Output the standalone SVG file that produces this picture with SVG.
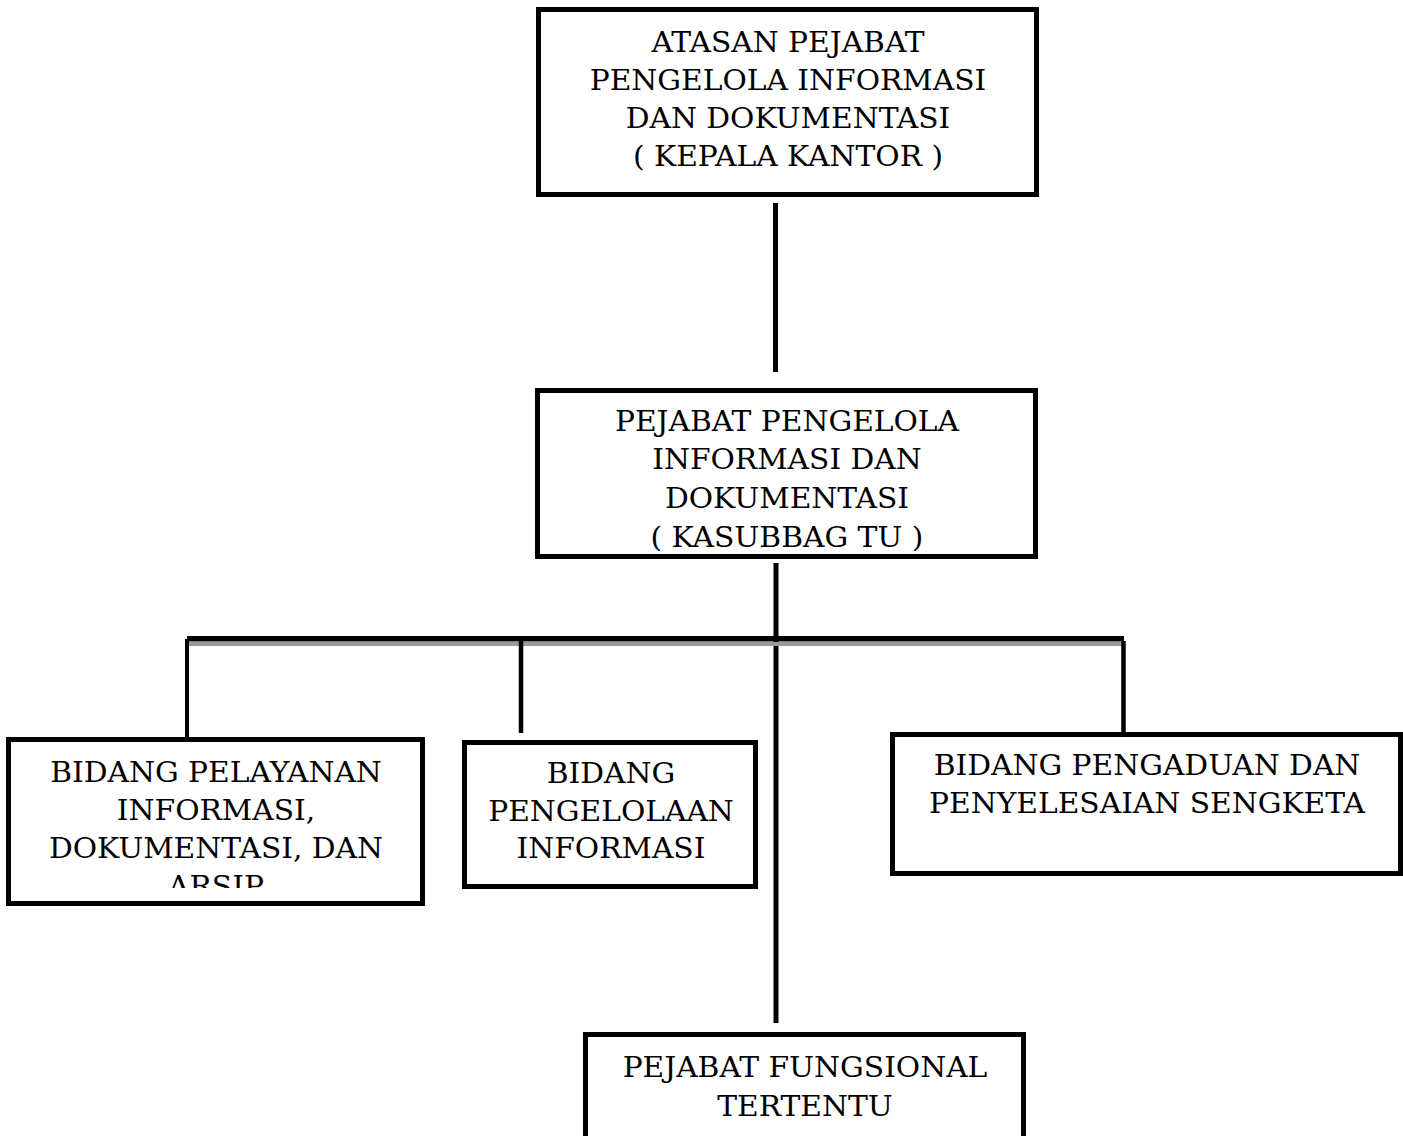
<svg xmlns="http://www.w3.org/2000/svg" width="1403" height="1136" viewBox="0 0 1403 1136">
<style>
.box{fill:#fff;stroke:#000;stroke-width:5}
.t{font-family:"DejaVu Serif","Liberation Serif",serif;font-size:27.5px;text-anchor:middle;fill:#000}
.c{stroke:#000;fill:none}
</style>
<defs>
<clipPath id="clip2"><rect x="540" y="393" width="493" height="158"/></clipPath>
<clipPath id="clip3"><rect x="11" y="742" width="409" height="146"/></clipPath>
</defs>
<rect width="1403" height="1136" fill="#fff"/>
<g id="connectors">
<line class="c" x1="775.5" y1="203" x2="775.5" y2="372" stroke-width="5"/>
<line class="c" x1="776" y1="563" x2="776" y2="1023" stroke-width="5"/>
<rect x="187" y="636" width="937" height="5.5" fill="#000"/>
<rect x="189" y="642" width="933" height="4" fill="#9a9a9a"/>
<line class="c" x1="187" y1="639" x2="187" y2="738" stroke-width="4"/>
<line class="c" x1="521" y1="641" x2="521" y2="733" stroke-width="4.5"/>
<line class="c" x1="1123.5" y1="641" x2="1123.5" y2="736" stroke-width="4.5"/>
</g>
<g id="node-atasan">
<rect class="box" x="538.5" y="9.5" width="498" height="185"/>
<g transform="translate(788 0) scale(1.08 1) translate(-788 0)">
<text class="t" x="788" y="52">ATASAN PEJABAT</text>
<text class="t" x="788" y="90">PENGELOLA INFORMASI</text>
<text class="t" x="788" y="128">DAN DOKUMENTASI</text>
<text class="t" x="788" y="166">( KEPALA KANTOR )</text>
</g>
</g>
<g id="node-ppid">
<rect class="box" x="537.5" y="390.5" width="498" height="166"/>
<g clip-path="url(#clip2)">
<g transform="translate(787 0) scale(1.08 1) translate(-787 0)">
<text class="t" x="787" y="431">PEJABAT PENGELOLA</text>
<text class="t" x="787" y="469">INFORMASI DAN</text>
<text class="t" x="787" y="508">DOKUMENTASI</text>
<text class="t" x="787" y="547">( KASUBBAG TU )</text>
</g>
</g>
</g>
<g id="node-pelayanan">
<rect class="box" x="8.5" y="739.5" width="414" height="164"/>
<g clip-path="url(#clip3)">
<g transform="translate(216 0) scale(1.08 1) translate(-216 0)">
<text class="t" x="216" y="782">BIDANG PELAYANAN</text>
<text class="t" x="216" y="820">INFORMASI,</text>
<text class="t" x="216" y="858">DOKUMENTASI, DAN</text>
<text class="t" x="216" y="896">ARSIP</text>
</g>
</g>
</g>
<g id="node-pengelolaan">
<rect class="box" x="464.5" y="742.5" width="291" height="144"/>
<g transform="translate(611 0) scale(1.08 1) translate(-611 0)">
<text class="t" x="611" y="783">BIDANG</text>
<text class="t" x="611" y="821">PENGELOLAAN</text>
<text class="t" x="611" y="858">INFORMASI</text>
</g>
</g>
<g id="node-pengaduan">
<rect class="box" x="892.5" y="734.5" width="508" height="139"/>
<g transform="translate(1147 0) scale(1.08 1) translate(-1147 0)">
<text class="t" x="1147" y="775">BIDANG PENGADUAN DAN</text>
<text class="t" x="1147" y="813">PENYELESAIAN SENGKETA</text>
</g>
</g>
<g id="node-fungsional">
<rect class="box" x="585.5" y="1034.5" width="438" height="150"/>
<g transform="translate(805 0) scale(1.08 1) translate(-805 0)">
<text class="t" x="805" y="1077">PEJABAT FUNGSIONAL</text>
<text class="t" x="805" y="1116">TERTENTU</text>
</g>
</g>
</svg>
